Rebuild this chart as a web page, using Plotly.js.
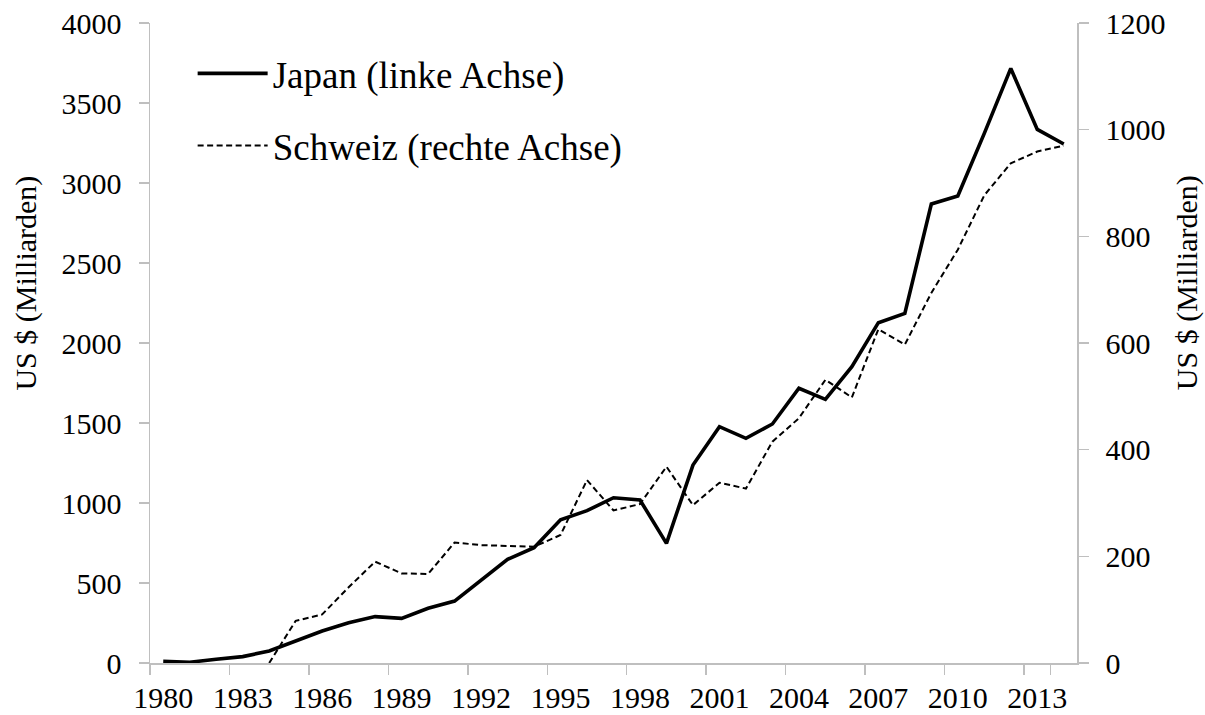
<!DOCTYPE html>
<html>
<head>
<meta charset="utf-8">
<script src="https://cdn.plot.ly/plotly-3.0.1.min.js"></script>
<style>html,body{margin:0;padding:0;background:#fff;}#chart{width:1205px;height:715px;}</style>
</head>
<body>
<div id="chart"></div>
<script>
const years = ["1980","1981","1982","1983","1984","1985","1986","1987","1988","1989",
  "1990","1991","1992","1993","1994","1995","1996","1997","1998","1999",
  "2000","2001","2002","2003","2004","2005","2006","2007","2008","2009",
  "2010","2011","2012","2013","2014"];
const japan = [10,5,23,40,75,135,200,252,290,279,
  342,387,519,648,721,895,952,1033,1019,748,
  1237,1477,1404,1494,1717,1648,1852,2127,2185,2869,
  2919,3310,3716,3335,3244];
const schweiz = [null,null,null,null,0,79,91,142,190,168,
  167,226,221,220,218,240,343,286,298,368,
  296,338,327,415,459,531,498,626,597,694,
  775,877,937,959,970];
const xTickLabels = ["1980","1983","1986","1989","1992","1995","1998","2001","2004","2007","2010","2013"];
const seriesNames = ["Japan (linke Achse)", "Schweiz (rechte Achse)"];
const yTitle = "US $ (Milliarden)";

const FONT = "Liberation Serif";
const AXC = "#bfbfbf";

const traces = [
  {x: years, y: japan, name: seriesNames[0], type: "scatter", mode: "lines",
   line: {color: "#000", width: 3.6}, yaxis: "y", legendgroup: "a"},
  {x: years, y: schweiz, name: seriesNames[1], type: "scatter", mode: "lines",
   line: {color: "#000", width: 2, dash: "6px,3.5px"}, yaxis: "y2", legendgroup: "b",
   connectgaps: false}
];

const tf = {family: FONT, size: 30, color: "#000"};

const layout = {
  width: 1205, height: 715,
  margin: {l: 150, r: 128, t: 23, b: 52, pad: 0},
  paper_bgcolor: "#fff", plot_bgcolor: "#fff",
  font: {family: FONT, color: "#000", size: 30},
  showlegend: true,
  legend: {x: 0.046, y: 0.969, xanchor: "left", yanchor: "top",
    font: {family: FONT, size: 37, color: "#000"},
    bgcolor: "rgba(0,0,0,0)", itemwidth: 70, tracegroupgap: 21, traceorder: "grouped"},
  xaxis: {type: "category", range: [-0.5, 34.5], tickangle: 0,
    tickmode: "array", tickvals: xTickLabels, ticktext: xTickLabels,
    tickson: "boundaries", ticks: "outside", ticklen: 10, tickcolor: AXC, tickwidth: 1.5,
    showline: true, linecolor: AXC, linewidth: 1.5, showgrid: false, zeroline: false,
    tickfont: tf, fixedrange: true, automargin: false, ticklabelstandoff: 7},
  yaxis: {range: [0, 4000], dtick: 500, tick0: 0, ticks: "outside", ticklen: 10,
    tickcolor: AXC, tickwidth: 1.5, showline: true, linecolor: AXC, linewidth: 1.5,
    showgrid: false, zeroline: false, ticklabelstandoff: 11, tickfont: tf, automargin: false},
  yaxis2: {range: [0, 1200], dtick: 200, tick0: 0, overlaying: "y", side: "right",
    ticks: "outside", ticklen: 10, tickcolor: AXC, tickwidth: 1.5, showline: true,
    linecolor: AXC, linewidth: 1.5, showgrid: false, zeroline: false, ticklabelstandoff: 11,
    tickfont: tf, automargin: false},
  annotations: [
    {text: yTitle, xref: "paper", yref: "paper", x: -0.134, y: 0.594, textangle: -90,
     showarrow: false, xanchor: "center", yanchor: "middle", font: tf},
    {text: yTitle, xref: "paper", yref: "paper", x: 1.119, y: 0.594, textangle: -90,
     showarrow: false, xanchor: "center", yanchor: "middle", font: tf}
  ]
};

Plotly.newPlot("chart", traces, layout, {displayModeBar: false, staticPlot: true});
</script>
</body>
</html>
